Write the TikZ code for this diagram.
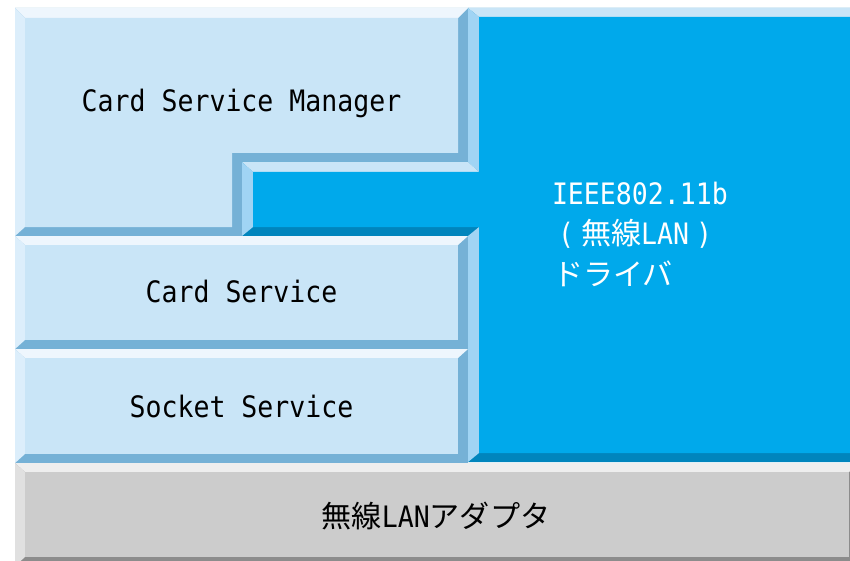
\documentclass[tikz,border=0pt]{standalone}
\usepackage{fontspec}
\newfontfamily\monof[FakeStretch=0.9]{DejaVu Sans Mono}
\newfontfamily\cjkf[Scale=1.02]{Noto Sans CJK JP}
\definecolor{lbfill}{HTML}{C9E5F7}
\definecolor{lbtop}{HTML}{EEF6FD}
\definecolor{lbleft}{HTML}{DCEEFB}
\definecolor{lbdark}{HTML}{75B1D6}
\definecolor{bfill}{HTML}{00A9EB}
\definecolor{btop}{HTML}{C9E5F7}
\definecolor{bleft}{HTML}{A0D4F4}
\definecolor{bdark}{HTML}{0085BD}
\definecolor{gfill}{HTML}{CCCCCC}
\definecolor{gtop}{HTML}{EEEEEE}
\definecolor{gleft}{HTML}{E0E0E0}
\definecolor{gdark}{HTML}{8C8C8C}
\newcommand{\bevelrect}[8]{%
  \fill[#8] (#1,#2) rectangle (#3,#4);
  \fill[#6] (#1,#2) -- (#3,#2) -- (#3-10,#2+9) -- (#1+10,#2+9) -- cycle;
  \fill[#7] (#1,#2) -- (#1+10,#2+9) -- (#1+10,#4-9) -- (#1,#4) -- cycle;
  \fill[#5] (#1+10,#2+9) rectangle (#3-10,#4-9);
}
\tikzset{
  lbl/.style={inner sep=0pt, outer sep=0pt, font=\fontsize{29.5}{35}\selectfont},
}
\begin{document}
\begin{tikzpicture}[x=1pt,y=-1pt]
\useasboundingbox (0,0) rectangle (850,561);
\fill[white] (0,0) rectangle (850,561);
\begin{scope}
\clip (0,0) rectangle (850,561);
% Card Service Manager (L-shape)
\fill[lbdark] (15,8) -- (468,8) -- (468,162) -- (242,162) -- (242,236) -- (15,236) -- cycle;
\fill[lbtop] (15,8) -- (468,8) -- (458,18) -- (25,18) -- cycle;
\fill[lbleft] (15,236) -- (15,8) -- (25,18) -- (25,227) -- cycle;
\fill[lbfill] (25,18) -- (458,18) -- (458,153) -- (232,153) -- (232,227) -- (25,227) -- cycle;
% Blue driver box (L-shape)
\fill[bdark] (468,8) -- (870,8) -- (870,462) -- (468,462) -- (468,236) -- (242,236) -- (242,162) -- (468,162) -- cycle;
\fill[btop] (468,8) -- (870,8) -- (860,17) -- (479,17) -- cycle;
\fill[bleft] (468,162) -- (468,8) -- (479,17) -- (479,172) -- cycle;
\fill[btop] (242,162) -- (468,162) -- (479,172) -- (253,172) -- cycle;
\fill[bleft] (242,236) -- (242,162) -- (253,172) -- (253,227) -- cycle;
\fill[bleft] (468,462) -- (468,236) -- (479,227) -- (479,453) -- cycle;
\fill[bfill] (479,17) -- (860,17) -- (860,453) -- (479,453) -- (479,227) -- (253,227) -- (253,172) -- (479,172) -- cycle;
% Card Service, Socket Service, adapter
\bevelrect{15}{236}{468}{349}{lbfill}{lbtop}{lbleft}{lbdark}
\bevelrect{15}{349}{468}{463}{lbfill}{lbtop}{lbleft}{lbdark}
\bevelrect{15}{463}{859}{566}{gfill}{gtop}{gleft}{gdark}
\end{scope}
% Labels
\node[lbl, anchor=base] (csm) at (241.5,112) {\monof Card Service Manager};
\node[lbl, anchor=base] (cs) at (241.5,302) {\monof Card Service};
\node[lbl, anchor=base] (ss) at (241.5,417) {\monof Socket Service};
\node[lbl, anchor=base] (adp) at (436,527) {{\cjkf 無線}{\monof LAN}{\cjkf アダプタ}};
\node[lbl, anchor=base west, text=white] (drv1) at (552,205) {\monof IEEE802.11b};
\node[lbl, anchor=base west, text=white] (drv2) at (551,244) {\makebox[30pt]{\monof (}{\cjkf 無線}{\monof LAN}\makebox[30pt]{\monof )}};
\node[lbl, anchor=base west, text=white] (drv3) at (553,285) {\cjkf ドライバ};
\end{tikzpicture}
\end{document}
